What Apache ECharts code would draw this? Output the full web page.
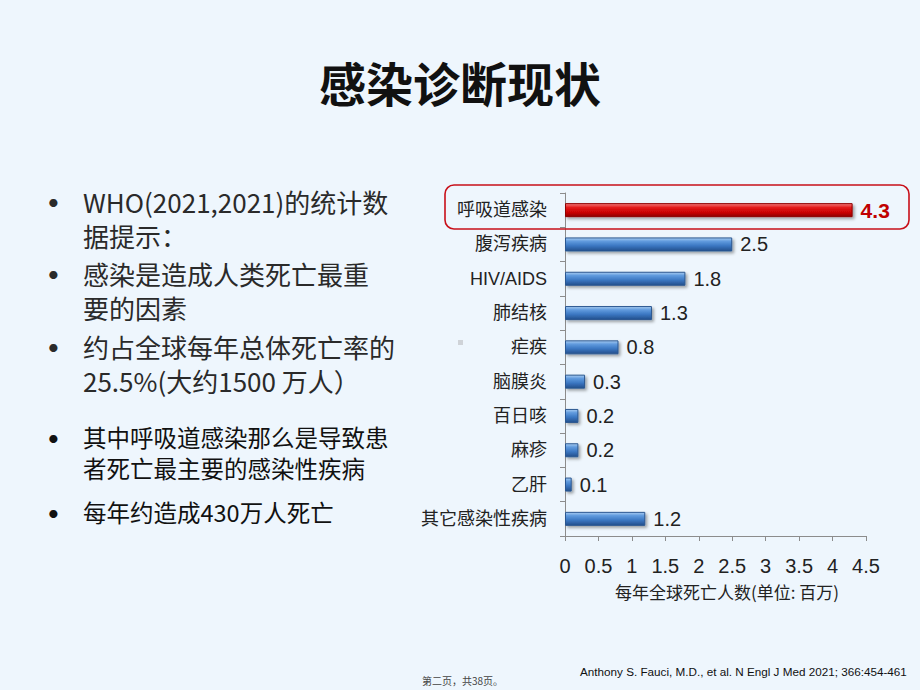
<!DOCTYPE html>
<html>
<head>
<meta charset="utf-8">
<script src="https://cdn.jsdelivr.net/npm/echarts@6/dist/echarts.min.js"></script>
<style>
html,body{margin:0;padding:0;background:#eef6fd;}
#main{width:920px;height:690px;}
</style>
</head>
<body>
<div id="main"></div>
<script>
var categories = ['呼吸道感染','腹泻疾病','HIV/AIDS','肺结核','疟疾','脑膜炎','百日咳','麻疹','乙肝','其它感染性疾病'];
var deaths = [4.3, 2.5, 1.8, 1.3, 0.8, 0.3, 0.2, 0.2, 0.1, 1.2];
var xTicks = [0, 0.5, 1, 1.5, 2, 2.5, 3, 3.5, 4, 4.5];
var titleText = '感染诊断现状';
var axisName = '每年全球死亡人数(单位: 百万)';
var bulletsA = [
  ['WHO(2021,2021)的统计数', '据提示：'],
  ['感染是造成人类死亡最重', '要的因素'],
  ['约占全球每年总体死亡率的', '25.5%(大约1500 万人）']
];
var bulletsB = [
  ['其中呼吸道感染那么是导致患', '者死亡最主要的感染性疾病'],
  ['每年约造成430万人死亡']
];
var footnote = 'Anthony S. Fauci, M.D., et al. N Engl J Med 2021; 366:454-461';
var pageNote = '第二页，共38页。';

var cjk = "'Noto Sans CJK SC', sans-serif";
var chart = echarts.init(document.getElementById('main'), null, {renderer: 'svg'});

var blueGrad = new echarts.graphic.LinearGradient(0, 0, 0, 1, [
  {offset: 0, color: '#a9cdf2'}, {offset: 0.25, color: '#619bde'},
  {offset: 0.6, color: '#3b77c2'}, {offset: 1, color: '#234f8c'}
]);
var redGrad = new echarts.graphic.LinearGradient(0, 0, 0, 1, [
  {offset: 0, color: '#f37a7a'}, {offset: 0.3, color: '#e31a1a'},
  {offset: 0.7, color: '#c80000'}, {offset: 1, color: '#8c0000'}
]);

var graphics = [];
graphics.push({type: 'text', left: 'center', top: 58, style: {text: titleText, fontSize: 47, fontWeight: 'bold', fontFamily: cjk, fill: '#111'}});

var firstA = [201, 273, 346];
var firstB = [437, 512];
function addBullets(list, ys, size, lh, color) {
  list.forEach(function (b, i) {
    graphics.push({type: 'text', x: 47, y: ys[i], style: {text: '•', fontSize: 22, lineHeight: 22, fill: color, verticalAlign: 'middle', fontFamily: "Lato, sans-serif"}});
    graphics.push({type: 'text', x: 83, y: ys[i] - lh / 2, style: {text: b.join('\n'), fontSize: size, lineHeight: lh, fill: color, verticalAlign: 'top', fontFamily: cjk}});
  });
}
addBullets(bulletsA, firstA, 26, 34, '#2a2a2a');
addBullets(bulletsB, firstB, 23.5, 31, '#111');

graphics.push({type: 'rect', shape: {x: 445, y: 185, width: 464, height: 44, r: 9}, style: {fill: 'none', stroke: '#c8101a', lineWidth: 1.6}, z: 10});
graphics.push({type: 'rect', shape: {x: 458, y: 340, width: 5, height: 5}, style: {fill: '#cfd3d8'}});
graphics.push({type: 'text', x: 727, y: 591, style: {text: axisName, fontSize: 17, fill: '#222', align: 'center', verticalAlign: 'middle', fontFamily: cjk}});
graphics.push({type: 'text', x: 580, y: 671, style: {text: footnote, fontSize: 11.7, fill: '#111', verticalAlign: 'middle', fontFamily: "'Liberation Sans', Arial, sans-serif"}});
graphics.push({type: 'text', x: 422, y: 680, style: {text: pageNote, fontSize: 10, fill: '#444', verticalAlign: 'middle', fontFamily: cjk}});

chart.setOption({
  backgroundColor: '#eef6fd',
  animation: false,
  grid: {left: 565, right: 54, top: 193, bottom: 154, containLabel: false},
  xAxis: {
    type: 'value', min: xTicks[0], max: xTicks[xTicks.length - 1], interval: 0.5,
    axisLine: {show: true, lineStyle: {color: '#8c8c8c', width: 1}},
    axisTick: {show: true, length: 5, lineStyle: {color: '#8c8c8c'}},
    splitLine: {show: false},
    axisLabel: {fontSize: 20, color: '#222', margin: 20, fontFamily: "'Liberation Sans', Arial, sans-serif"}
  },
  yAxis: {
    type: 'category', data: categories, inverse: true,
    axisLine: {show: true, lineStyle: {color: '#8c8c8c', width: 1}},
    axisTick: {show: true, length: 5, lineStyle: {color: '#8c8c8c'}},
    axisLabel: {fontSize: 18, color: '#222', margin: 18, fontFamily: "Arial, 'Liberation Sans', 'Noto Sans CJK SC', sans-serif"}
  },
  series: [{
    type: 'bar', barWidth: 14,
    data: deaths.map(function (v, i) {
      return i === 0 ? {
        value: v,
        itemStyle: {color: redGrad, borderColor: '#8f0000', borderWidth: 1},
        label: {color: '#c00000', fontWeight: 'bold', fontSize: 21}
      } : {value: v};
    }),
    itemStyle: {color: blueGrad, borderColor: '#2b5790', borderWidth: 1,
      shadowColor: 'rgba(0,0,0,0.35)', shadowBlur: 3, shadowOffsetX: 2, shadowOffsetY: 2},
    label: {show: true, position: 'right', distance: 8, fontSize: 20, color: '#222',
      fontFamily: "'Liberation Sans', Arial, sans-serif"}
  }],
  graphic: graphics
});
</script>
</body>
</html>
